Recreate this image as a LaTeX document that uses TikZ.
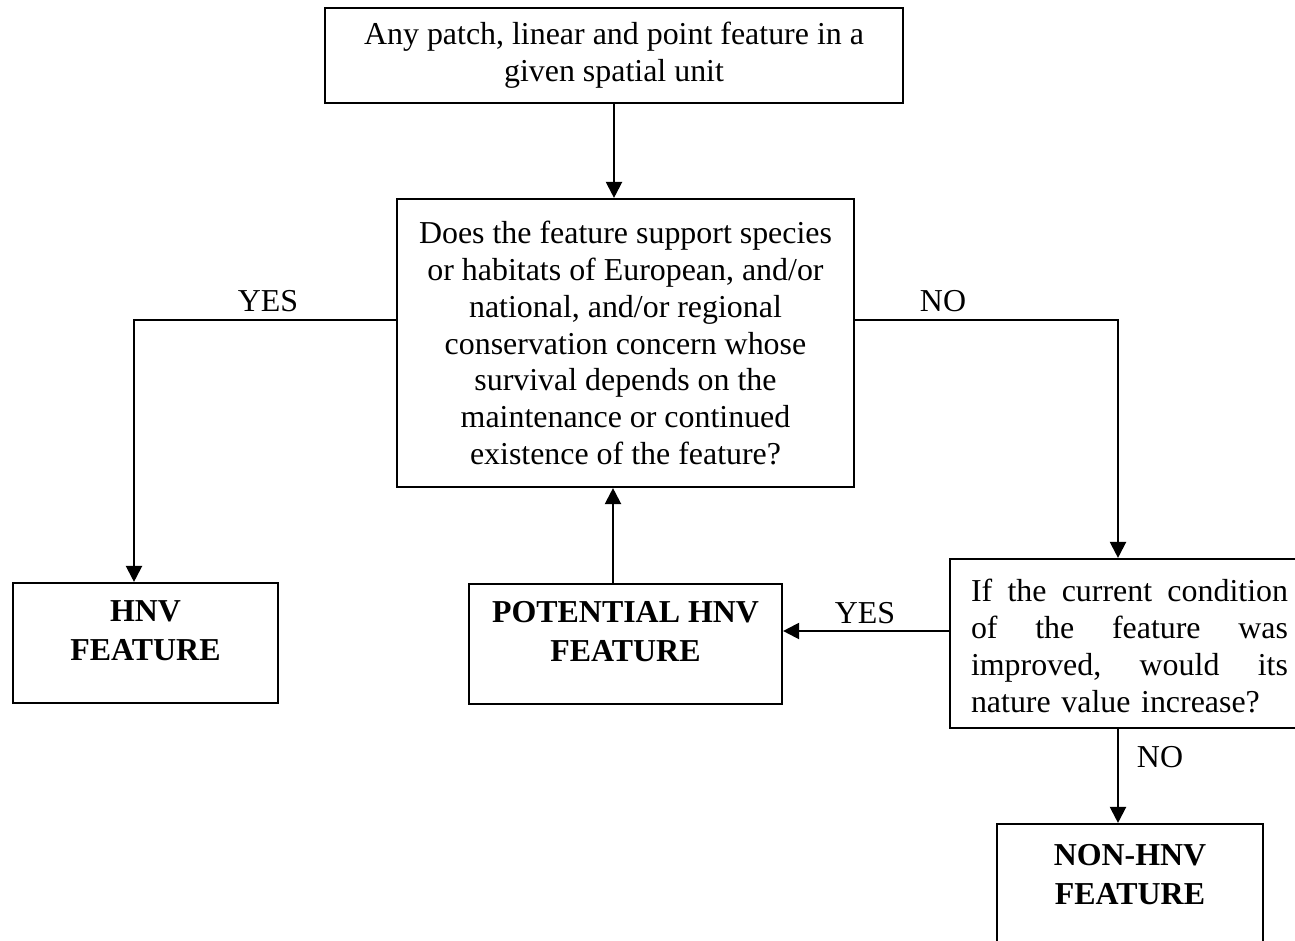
\documentclass[tikz,border=0pt]{standalone}
\usepackage{fontspec}
\setmainfont{Liberation Serif}
\usetikzlibrary{arrows.meta}

\begin{document}
\begin{tikzpicture}[x=0.376pt, y=-0.376pt, thick, >={Triangle[width=6pt,length=6pt]},
  font=\fontsize{12}{13.8}\selectfont,
  box/.style = {draw, rectangle, inner sep=0pt},
  bold/.style = {align=center, inner sep=0pt, font=\fontsize{12}{14.7}\selectfont\bfseries}]
  \useasboundingbox (0,0) rectangle (1295,941);

  % boxes
  \node[box, align=center, minimum width=578*0.376pt, minimum height=95*0.376pt] (start) at (614,55.5)
    {Any patch, linear and point feature in a\\given spatial unit};
  \node[box, align=center, minimum width=457*0.376pt, minimum height=288*0.376pt] (quest) at (625.5,343)
    {Does the feature support species\\or habitats of European, and/or\\national, and/or regional\\conservation concern whose\\survival depends on the\\maintenance or continued\\existence of the feature?};
  \node[box, minimum width=265*0.376pt, minimum height=120*0.376pt] (hnv) at (145.5,643) {};
  \node[bold] (hnv_t) at (145.5,631) {HNV\\FEATURE};
  \node[box, minimum width=313*0.376pt, minimum height=120*0.376pt] (pot) at (625.5,644) {};
  \node[bold] (pot_t) at (625.5,632) {POTENTIAL HNV\\FEATURE};
  \node[box, minimum width=370*0.376pt, minimum height=169*0.376pt] (cond) at (1135,643.5) {};
  \node[align=left, inner sep=0pt, text width=317*0.376pt] (cond_t) at (1129.5,646)
    {If \hfill the \hfill current \hfill condition\\of \hfill the \hfill feature \hfill was\\improved, \hfill would \hfill its\\nature value increase?};
  \node[box, minimum width=266*0.376pt, minimum height=136*0.376pt] (non) at (1130,892) {};
  \node[bold] (non_t) at (1130,875) {NON-HNV\\FEATURE};

  % bends
  \coordinate (yes_b) at (134,320);
  \coordinate (no_b) at (1118,320);
  \coordinate (yes_o) at (950,631);
  \coordinate (pot_o) at (613,584);
  \coordinate (no_o) at (1118,728);

  % connectors
  \draw[->] (start.south) -- (start.south |- quest.north);
  \draw[->] (yes_b -| quest.west) -- (yes_b) -- (yes_b |- hnv.north);
  \draw[->] (no_b -| quest.east) -- (no_b) -- (no_b |- cond.north);
  \draw[->] (yes_o) -- (yes_o -| pot.east);
  \draw[->] (pot_o) -- (pot_o |- quest.south);
  \draw[->] (no_o) -- (no_o |- non.north);

  % labels
  \node (yes_l) at (268,301) {YES};
  \node (no_l) at (943,301) {NO};
  \node (yes_l2) at (865,613) {YES};
  \node (no_l2) at (1160,757) {NO};
\end{tikzpicture}
\end{document}
